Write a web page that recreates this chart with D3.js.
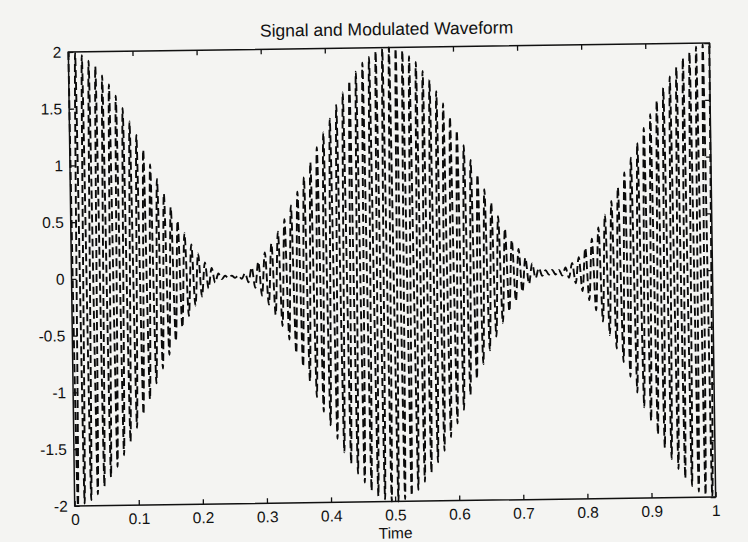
<!DOCTYPE html>
<html>
<head>
<meta charset="utf-8">
<script src="https://cdn.jsdelivr.net/npm/d3@7"></script>
<style>
  body { margin: 0; background: #f4f4f2; }
  text { font-family: "Liberation Sans", Arial, sans-serif; fill: #111; }
</style>
</head>
<body>
<div id="chart"></div>
<script>
const xTicks = [0, 0.1, 0.2, 0.3, 0.4, 0.5, 0.6, 0.7, 0.8, 0.9, 1];
const yTicks = [-2, -1.5, -1, -0.5, 0, 0.5, 1, 1.5, 2];

// carrier extremes over the time span (alternating top / bottom), ~96 cycles
const halfCycles = 192;
// amplitude of each extreme
const peakAmps = [
     2.00, 2.00, 1.99, 1.98, 1.97, 1.95, 1.92, 1.90, 1.87, 1.83, 1.79, 1.75,
     1.71, 1.66, 1.61, 1.56, 1.50, 1.44, 1.38, 1.32, 1.26, 1.20, 1.13, 1.07,
     1.00, 0.93, 0.87, 0.80, 0.74, 0.68, 0.62, 0.56, 0.50, 0.44, 0.39, 0.34,
     0.29, 0.25, 0.21, 0.17, 0.13, 0.10, 0.08, 0.05, 0.03, 0.02, 0.01, 0.01,
     0.01, 0.01, 0.01, 0.02, 0.03, 0.05, 0.08, 0.10, 0.13, 0.17, 0.21, 0.25,
     0.29, 0.34, 0.39, 0.44, 0.50, 0.56, 0.62, 0.68, 0.74, 0.80, 0.87, 0.93,
     1.00, 1.07, 1.13, 1.20, 1.26, 1.32, 1.38, 1.44, 1.50, 1.56, 1.61, 1.66,
     1.71, 1.75, 1.79, 1.83, 1.87, 1.90, 1.92, 1.95, 1.97, 1.98, 1.99, 2.00,
     2.00, 2.00, 1.99, 1.98, 1.97, 1.95, 1.92, 1.90, 1.87, 1.83, 1.79, 1.75,
     1.71, 1.66, 1.61, 1.56, 1.50, 1.44, 1.38, 1.32, 1.26, 1.20, 1.13, 1.07,
     1.00, 0.93, 0.87, 0.80, 0.74, 0.68, 0.62, 0.56, 0.50, 0.44, 0.39, 0.34,
     0.29, 0.25, 0.21, 0.17, 0.13, 0.10, 0.08, 0.05, 0.04, 0.03, 0.02, 0.02,
     0.02, 0.02, 0.02, 0.03, 0.04, 0.05, 0.08, 0.10, 0.13, 0.17, 0.21, 0.25,
     0.29, 0.34, 0.39, 0.44, 0.50, 0.56, 0.62, 0.68, 0.74, 0.80, 0.87, 0.93,
     1.00, 1.07, 1.13, 1.20, 1.26, 1.32, 1.38, 1.44, 1.50, 1.56, 1.61, 1.66,
     1.71, 1.75, 1.79, 1.83, 1.87, 1.90, 1.92, 1.95, 1.97, 1.98, 1.99, 2.00,
     2.00
];

const width = 748;
const height = 542;
const plotLeft = 71.5, plotTop = 47.5;
const plotW = 641, plotH = 454;

window.onload = function() {
     drawChart();
};

function drawChart(){
     let svg = d3.select("#chart")
                    .append("svg")
                         .attr("width", width)
                         .attr("height", height);

     // the scan is slightly tilted
     let fig = svg.append("g")
                    .attr("transform", `rotate(-0.8, ${plotLeft + plotW / 2}, ${plotTop + plotH / 2})`);

     const x = d3.scaleLinear().domain([0, 1]).range([0, plotW]);
     const y = d3.scaleLinear().domain([-2, 2]).range([plotH, 0]);
     const idx = d3.scaleLinear().domain([0, halfCycles]).range([0, 1]);

     let g = fig.append("g")
               .attr("transform", `translate(${plotLeft}, ${plotTop})`);

     // title
     fig.append("text")
          .attr("x", plotLeft + plotW / 2 - 2)
          .attr("y", 35)
          .attr("text-anchor", "middle")
          .style("font-size", "17.5px")
          .text("Signal and Modulated Waveform");

     // waveform: smooth curve through the carrier extremes
     let pts = peakAmps.map((a, i) => [idx(i), i % 2 === 0 ? a : -a]);
     let line = d3.line()
                    .x(d => x(d[0]))
                    .y(d => y(d[1]))
                    .curve(d3.curveMonotoneX);

     g.append("path")
          .datum(pts)
          .attr("d", line)
          .attr("fill", "none")
          .attr("stroke", "#0a0a0a")
          .attr("stroke-width", 1.9)
          .attr("stroke-dasharray", "8,4");

     let fmt = d => d3.format("")(d).replace("−", "-");

     // axes, MATLAB style with inward ticks
     let xb = g.append("g")
               .attr("transform", `translate(0, ${plotH})`)
               .call(d3.axisBottom(x).tickValues(xTicks).tickSize(-5).tickPadding(8).tickFormat(fmt));
     let xt = g.append("g")
               .call(d3.axisTop(x).tickValues(xTicks).tickSize(-5).tickFormat(""));
     let yl = g.append("g")
               .call(d3.axisLeft(y).tickValues(yTicks).tickSize(-5).tickPadding(7).tickFormat(fmt));
     let yr = g.append("g")
               .attr("transform", `translate(${plotW}, 0)`)
               .call(d3.axisRight(y).tickValues(yTicks).tickSize(-5).tickFormat(""));

     [xb, xt, yl, yr].forEach(a => {
          a.select(".domain").remove();
          a.selectAll("line").attr("stroke", "#111").attr("stroke-width", 1.3);
          a.selectAll("text")
               .style("font-size", "15.5px")
               .style("font-family", "'Liberation Sans', Arial, sans-serif")
               .attr("fill", "#111");
     });

     g.append("rect")
          .attr("width", plotW)
          .attr("height", plotH)
          .attr("fill", "none")
          .attr("stroke", "#111")
          .attr("stroke-width", 1.5);

     // x label
     g.append("text")
          .attr("x", plotW / 2)
          .attr("y", plotH + 37)
          .attr("text-anchor", "middle")
          .style("font-size", "15.5px")
          .text("Time");
}
</script>
</body>
</html>
